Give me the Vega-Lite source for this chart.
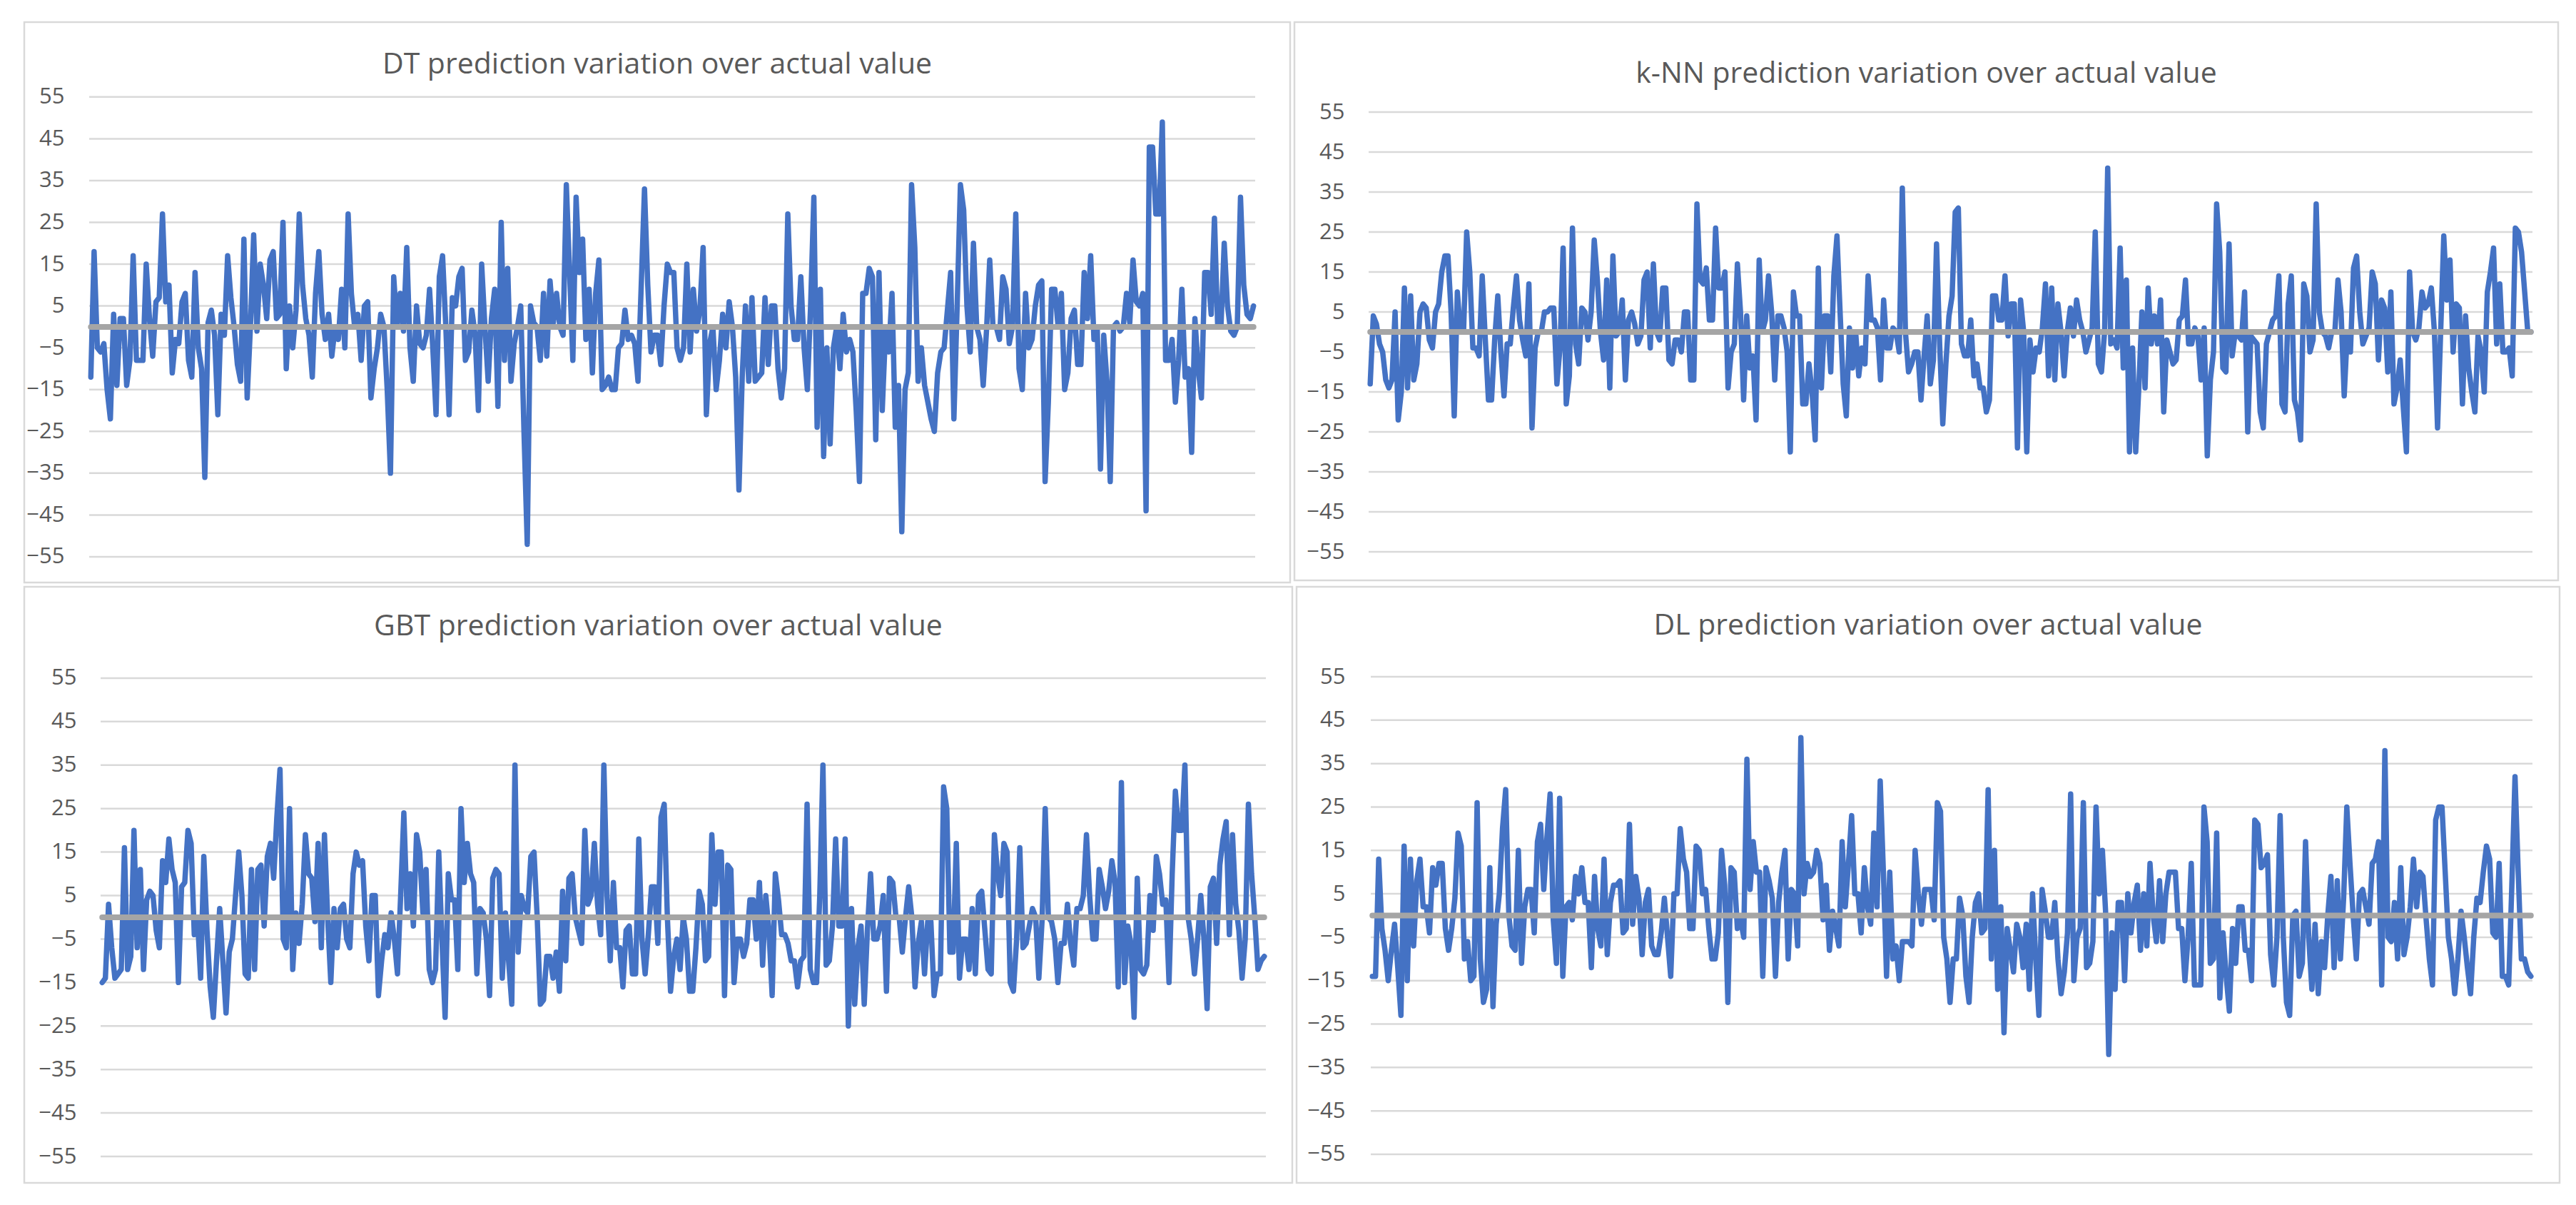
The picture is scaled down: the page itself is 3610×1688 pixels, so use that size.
{
  "$schema": "https://vega.github.io/schema/vega-lite/v6.json",
  "background": "white",
  "padding": {"left": 32, "top": 29, "right": 0, "bottom": 0},
  "config": {
    "view": {"stroke": "#D9D9D9", "strokeWidth": 2.5},
    "font": "Open Sans"
  },
  "datasets": {
    "grid": [{"v":-55},{"v":-45},{"v":-35},{"v":-25},{"v":-15},{"v":-5},{"v":5},{"v":15},{"v":25},{"v":35},{"v":45},{"v":55}],
    "zero": [{"v":0}],
    "dt": [
      {"i":1,"v":-12},{"i":2,"v":18},{"i":3,"v":-5},{"i":4,"v":-6},{"i":5,"v":-4},{"i":6,"v":-15},{"i":7,"v":-22},{"i":8,"v":3},{"i":9,"v":-14},{"i":10,"v":2},
      {"i":11,"v":2},{"i":12,"v":-14},{"i":13,"v":-8},{"i":14,"v":17},{"i":15,"v":-8},{"i":16,"v":-8},{"i":17,"v":-8},{"i":18,"v":15},{"i":19,"v":2},{"i":20,"v":-7},
      {"i":21,"v":6},{"i":22,"v":7},{"i":23,"v":27},{"i":24,"v":6},{"i":25,"v":10},{"i":26,"v":-11},{"i":27,"v":-3},{"i":28,"v":-4},{"i":29,"v":6},{"i":30,"v":8},
      {"i":31,"v":-8},{"i":32,"v":-12},{"i":33,"v":13},{"i":34,"v":-5},{"i":35,"v":-10},{"i":36,"v":-36},{"i":37,"v":1},{"i":38,"v":4},{"i":39,"v":-2},{"i":40,"v":-21},
      {"i":41,"v":3},{"i":42,"v":-2},{"i":43,"v":17},{"i":44,"v":7},{"i":45,"v":0},{"i":46,"v":-9},{"i":47,"v":-13},{"i":48,"v":21},{"i":49,"v":-17},{"i":50,"v":0},
      {"i":51,"v":22},{"i":52,"v":-1},{"i":53,"v":15},{"i":54,"v":10},{"i":55,"v":2},{"i":56,"v":16},{"i":57,"v":18},{"i":58,"v":2},{"i":59,"v":3},{"i":60,"v":25},
      {"i":61,"v":-10},{"i":62,"v":5},{"i":63,"v":-5},{"i":64,"v":4},{"i":65,"v":27},{"i":66,"v":10},{"i":67,"v":2},{"i":68,"v":-2},{"i":69,"v":-12},{"i":70,"v":8},
      {"i":71,"v":18},{"i":72,"v":3},{"i":73,"v":-3},{"i":74,"v":3},{"i":75,"v":-7},{"i":76,"v":0},{"i":77,"v":-3},{"i":78,"v":9},{"i":79,"v":-5},{"i":80,"v":27},
      {"i":81,"v":8},{"i":82,"v":0},{"i":83,"v":3},{"i":84,"v":-8},{"i":85,"v":5},{"i":86,"v":6},{"i":87,"v":-17},{"i":88,"v":-10},{"i":89,"v":-5},{"i":90,"v":3},
      {"i":91,"v":0},{"i":92,"v":-15},{"i":93,"v":-35},{"i":94,"v":12},{"i":95,"v":0},{"i":96,"v":8},{"i":97,"v":-1},{"i":98,"v":19},{"i":99,"v":-5},{"i":100,"v":-13},
      {"i":101,"v":5},{"i":102,"v":-4},{"i":103,"v":-5},{"i":104,"v":-2},{"i":105,"v":9},{"i":106,"v":-5},{"i":107,"v":-21},{"i":108,"v":12},{"i":109,"v":17},{"i":110,"v":0},
      {"i":111,"v":-21},{"i":112,"v":7},{"i":113,"v":5},{"i":114,"v":12},{"i":115,"v":14},{"i":116,"v":-8},{"i":117,"v":-6},{"i":118,"v":4},{"i":119,"v":-2},{"i":120,"v":-20},
      {"i":121,"v":15},{"i":122,"v":0},{"i":123,"v":-13},{"i":124,"v":2},{"i":125,"v":9},{"i":126,"v":-19},{"i":127,"v":25},{"i":128,"v":-8},{"i":129,"v":14},{"i":130,"v":-13},
      {"i":131,"v":-4},{"i":132,"v":0},{"i":133,"v":5},{"i":134,"v":-25},{"i":135,"v":-52},{"i":136,"v":5},{"i":137,"v":1},{"i":138,"v":0},{"i":139,"v":-8},{"i":140,"v":8},
      {"i":141,"v":-7},{"i":142,"v":11},{"i":143,"v":1},{"i":144,"v":8},{"i":145,"v":0},{"i":146,"v":-2},{"i":147,"v":34},{"i":148,"v":13},{"i":149,"v":-8},{"i":150,"v":31},
      {"i":151,"v":13},{"i":152,"v":21},{"i":153,"v":-3},{"i":154,"v":9},{"i":155,"v":-11},{"i":156,"v":8},{"i":157,"v":16},{"i":158,"v":-15},{"i":159,"v":-14},{"i":160,"v":-12},
      {"i":161,"v":-15},{"i":162,"v":-15},{"i":163,"v":-5},{"i":164,"v":-4},{"i":165,"v":4},{"i":166,"v":-3},{"i":167,"v":-2},{"i":168,"v":-4},{"i":169,"v":-13},{"i":170,"v":10},
      {"i":171,"v":33},{"i":172,"v":10},{"i":173,"v":-6},{"i":174,"v":-2},{"i":175,"v":-2},{"i":176,"v":-9},{"i":177,"v":5},{"i":178,"v":15},{"i":179,"v":13},{"i":180,"v":13},
      {"i":181,"v":-5},{"i":182,"v":-8},{"i":183,"v":-5},{"i":184,"v":15},{"i":185,"v":-6},{"i":186,"v":9},{"i":187,"v":-1},{"i":188,"v":4},{"i":189,"v":19},{"i":190,"v":-21},
      {"i":191,"v":-4},{"i":192,"v":0},{"i":193,"v":-15},{"i":194,"v":-8},{"i":195,"v":3},{"i":196,"v":-5},{"i":197,"v":6},{"i":198,"v":0},{"i":199,"v":-12},{"i":200,"v":-39},
      {"i":201,"v":-12},{"i":202,"v":5},{"i":203,"v":-13},{"i":204,"v":7},{"i":205,"v":-13},{"i":206,"v":-12},{"i":207,"v":-11},{"i":208,"v":7},{"i":209,"v":-9},{"i":210,"v":5},
      {"i":211,"v":5},{"i":212,"v":-10},{"i":213,"v":-17},{"i":214,"v":-10},{"i":215,"v":27},{"i":216,"v":5},{"i":217,"v":-3},{"i":218,"v":-3},{"i":219,"v":12},{"i":220,"v":-5},
      {"i":221,"v":-15},{"i":222,"v":5},{"i":223,"v":31},{"i":224,"v":-24},{"i":225,"v":9},{"i":226,"v":-31},{"i":227,"v":-5},{"i":228,"v":-28},{"i":229,"v":-5},{"i":230,"v":0},
      {"i":231,"v":-10},{"i":232,"v":3},{"i":233,"v":-6},{"i":234,"v":-3},{"i":235,"v":-6},{"i":236,"v":-20},{"i":237,"v":-37},{"i":238,"v":8},{"i":239,"v":8},{"i":240,"v":14},
      {"i":241,"v":12},{"i":242,"v":-27},{"i":243,"v":13},{"i":244,"v":-20},{"i":245,"v":-1},{"i":246,"v":-6},{"i":247,"v":8},{"i":248,"v":-24},{"i":249,"v":-14},{"i":250,"v":-49},
      {"i":251,"v":-15},{"i":252,"v":-11},{"i":253,"v":34},{"i":254,"v":19},{"i":255,"v":-13},{"i":256,"v":-5},{"i":257,"v":-14},{"i":258,"v":-18},{"i":259,"v":-22},{"i":260,"v":-25},
      {"i":261,"v":-11},{"i":262,"v":-6},{"i":263,"v":-5},{"i":264,"v":4},{"i":265,"v":13},{"i":266,"v":-22},{"i":267,"v":5},{"i":268,"v":34},{"i":269,"v":28},{"i":270,"v":5},
      {"i":271,"v":-6},{"i":272,"v":20},{"i":273,"v":0},{"i":274,"v":-3},{"i":275,"v":-14},{"i":276,"v":-1},{"i":277,"v":16},{"i":278,"v":0},{"i":279,"v":0},{"i":280,"v":-3},
      {"i":281,"v":12},{"i":282,"v":9},{"i":283,"v":-4},{"i":284,"v":0},{"i":285,"v":27},{"i":286,"v":-10},{"i":287,"v":-15},{"i":288,"v":8},{"i":289,"v":-5},{"i":290,"v":-3},
      {"i":291,"v":5},{"i":292,"v":10},{"i":293,"v":11},{"i":294,"v":-37},{"i":295,"v":-18},{"i":296,"v":9},{"i":297,"v":9},{"i":298,"v":0},{"i":299,"v":8},{"i":300,"v":-15},
      {"i":301,"v":-11},{"i":302,"v":2},{"i":303,"v":4},{"i":304,"v":-9},{"i":305,"v":-9},{"i":306,"v":13},{"i":307,"v":2},{"i":308,"v":17},{"i":309,"v":-3},{"i":310,"v":0},
      {"i":311,"v":-34},{"i":312,"v":-2},{"i":313,"v":-13},{"i":314,"v":-37},{"i":315,"v":0},{"i":316,"v":1},{"i":317,"v":-1},{"i":318,"v":0},{"i":319,"v":8},{"i":320,"v":1},
      {"i":321,"v":16},{"i":322,"v":6},{"i":323,"v":5},{"i":324,"v":8},{"i":325,"v":-44},{"i":326,"v":43},{"i":327,"v":43},{"i":328,"v":27},{"i":329,"v":27},{"i":330,"v":49},
      {"i":331,"v":-8},{"i":332,"v":-8},{"i":333,"v":-3},{"i":334,"v":-18},{"i":335,"v":-8},{"i":336,"v":9},{"i":337,"v":-12},{"i":338,"v":-10},{"i":339,"v":-30},{"i":340,"v":2},
      {"i":341,"v":-10},{"i":342,"v":-17},{"i":343,"v":13},{"i":344,"v":13},{"i":345,"v":3},{"i":346,"v":26},{"i":347,"v":0},{"i":348,"v":0},{"i":349,"v":20},{"i":350,"v":5},
      {"i":351,"v":-1},{"i":352,"v":-2},{"i":353,"v":0},{"i":354,"v":31},{"i":355,"v":10},{"i":356,"v":3},{"i":357,"v":2},{"i":358,"v":5}
    ],
    "knn": [
      {"i":1,"v":-13},{"i":2,"v":4},{"i":3,"v":2},{"i":4,"v":-3},{"i":5,"v":-5},{"i":6,"v":-12},{"i":7,"v":-14},{"i":8,"v":-12},{"i":9,"v":5},{"i":10,"v":-22},
      {"i":11,"v":-15},{"i":12,"v":11},{"i":13,"v":-14},{"i":14,"v":9},{"i":15,"v":-12},{"i":16,"v":-8},{"i":17,"v":5},{"i":18,"v":7},{"i":19,"v":6},{"i":20,"v":-2},
      {"i":21,"v":-4},{"i":22,"v":5},{"i":23,"v":7},{"i":24,"v":15},{"i":25,"v":19},{"i":26,"v":19},{"i":27,"v":5},{"i":28,"v":-21},{"i":29,"v":10},{"i":30,"v":0},
      {"i":31,"v":0},{"i":32,"v":25},{"i":33,"v":15},{"i":34,"v":-4},{"i":35,"v":-4},{"i":36,"v":-6},{"i":37,"v":14},{"i":38,"v":-2},{"i":39,"v":-17},{"i":40,"v":-17},
      {"i":41,"v":-2},{"i":42,"v":9},{"i":43,"v":-5},{"i":44,"v":-16},{"i":45,"v":-3},{"i":46,"v":-3},{"i":47,"v":6},{"i":48,"v":14},{"i":49,"v":3},{"i":50,"v":-2},
      {"i":51,"v":-6},{"i":52,"v":12},{"i":53,"v":-24},{"i":54,"v":-4},{"i":55,"v":0},{"i":56,"v":0},{"i":57,"v":5},{"i":58,"v":5},{"i":59,"v":6},{"i":60,"v":6},
      {"i":61,"v":-13},{"i":62,"v":-4},{"i":63,"v":21},{"i":64,"v":-18},{"i":65,"v":-11},{"i":66,"v":26},{"i":67,"v":-3},{"i":68,"v":-8},{"i":69,"v":6},{"i":70,"v":5},
      {"i":71,"v":-2},{"i":72,"v":5},{"i":73,"v":23},{"i":74,"v":13},{"i":75,"v":0},{"i":76,"v":-7},{"i":77,"v":13},{"i":78,"v":-14},{"i":79,"v":19},{"i":80,"v":-1},
      {"i":81,"v":0},{"i":82,"v":8},{"i":83,"v":-12},{"i":84,"v":3},{"i":85,"v":5},{"i":86,"v":2},{"i":87,"v":-3},{"i":88,"v":-1},{"i":89,"v":13},{"i":90,"v":15},
      {"i":91,"v":-4},{"i":92,"v":17},{"i":93,"v":0},{"i":94,"v":-2},{"i":95,"v":11},{"i":96,"v":11},{"i":97,"v":-7},{"i":98,"v":-8},{"i":99,"v":-2},{"i":100,"v":-2},
      {"i":101,"v":-5},{"i":102,"v":5},{"i":103,"v":5},{"i":104,"v":-12},{"i":105,"v":-12},{"i":106,"v":32},{"i":107,"v":13},{"i":108,"v":12},{"i":109,"v":16},{"i":110,"v":3},
      {"i":111,"v":3},{"i":112,"v":26},{"i":113,"v":11},{"i":114,"v":11},{"i":115,"v":15},{"i":116,"v":-14},{"i":117,"v":-5},{"i":118,"v":-3},{"i":119,"v":17},{"i":120,"v":5},
      {"i":121,"v":-17},{"i":122,"v":4},{"i":123,"v":-9},{"i":124,"v":-6},{"i":125,"v":-22},{"i":126,"v":18},{"i":127,"v":0},{"i":128,"v":3},{"i":129,"v":14},{"i":130,"v":5},
      {"i":131,"v":-12},{"i":132,"v":4},{"i":133,"v":4},{"i":134,"v":1},{"i":135,"v":-5},{"i":136,"v":-30},{"i":137,"v":10},{"i":138,"v":4},{"i":139,"v":4},{"i":140,"v":-18},
      {"i":141,"v":-18},{"i":142,"v":-8},{"i":143,"v":-15},{"i":144,"v":-27},{"i":145,"v":16},{"i":146,"v":-14},{"i":147,"v":4},{"i":148,"v":4},{"i":149,"v":-10},{"i":150,"v":14},
      {"i":151,"v":24},{"i":152,"v":5},{"i":153,"v":-13},{"i":154,"v":-21},{"i":155,"v":1},{"i":156,"v":-9},{"i":157,"v":0},{"i":158,"v":-11},{"i":159,"v":-4},{"i":160,"v":-8},
      {"i":161,"v":14},{"i":162,"v":3},{"i":163,"v":3},{"i":164,"v":1},{"i":165,"v":-12},{"i":166,"v":8},{"i":167,"v":-4},{"i":168,"v":-4},{"i":169,"v":1},{"i":170,"v":0},
      {"i":171,"v":-5},{"i":172,"v":36},{"i":173,"v":0},{"i":174,"v":-10},{"i":175,"v":-8},{"i":176,"v":-5},{"i":177,"v":-5},{"i":178,"v":-17},{"i":179,"v":-6},{"i":180,"v":4},
      {"i":181,"v":-13},{"i":182,"v":-7},{"i":183,"v":22},{"i":184,"v":-3},{"i":185,"v":-23},{"i":186,"v":-8},{"i":187,"v":4},{"i":188,"v":9},{"i":189,"v":30},{"i":190,"v":31},
      {"i":191,"v":-3},{"i":192,"v":-6},{"i":193,"v":-6},{"i":194,"v":3},{"i":195,"v":-11},{"i":196,"v":-8},{"i":197,"v":-14},{"i":198,"v":-14},{"i":199,"v":-20},{"i":200,"v":-17},
      {"i":201,"v":9},{"i":202,"v":9},{"i":203,"v":3},{"i":204,"v":3},{"i":205,"v":14},{"i":206,"v":-1},{"i":207,"v":7},{"i":208,"v":7},{"i":209,"v":-29},{"i":210,"v":8},
      {"i":211,"v":0},{"i":212,"v":-30},{"i":213,"v":-2},{"i":214,"v":-10},{"i":215,"v":-4},{"i":216,"v":-5},{"i":217,"v":1},{"i":218,"v":12},{"i":219,"v":-11},{"i":220,"v":11},
      {"i":221,"v":-12},{"i":222,"v":7},{"i":223,"v":0},{"i":224,"v":-11},{"i":225,"v":0},{"i":226,"v":6},{"i":227,"v":-1},{"i":228,"v":8},{"i":229,"v":3},{"i":230,"v":0},
      {"i":231,"v":-5},{"i":232,"v":-2},{"i":233,"v":1},{"i":234,"v":25},{"i":235,"v":-8},{"i":236,"v":-10},{"i":237,"v":0},{"i":238,"v":41},{"i":239,"v":-3},{"i":240,"v":-2},
      {"i":241,"v":-4},{"i":242,"v":21},{"i":243,"v":-9},{"i":244,"v":13},{"i":245,"v":-30},{"i":246,"v":-4},{"i":247,"v":-30},{"i":248,"v":-14},{"i":249,"v":5},{"i":250,"v":-14},
      {"i":251,"v":11},{"i":252,"v":-3},{"i":253,"v":4},{"i":254,"v":-3},{"i":255,"v":8},{"i":256,"v":-20},{"i":257,"v":-2},{"i":258,"v":-5},{"i":259,"v":-8},{"i":260,"v":-7},
      {"i":261,"v":3},{"i":262,"v":4},{"i":263,"v":13},{"i":264,"v":-3},{"i":265,"v":-3},{"i":266,"v":1},{"i":267,"v":-1},{"i":268,"v":-12},{"i":269,"v":1},{"i":270,"v":-31},
      {"i":271,"v":-12},{"i":272,"v":-5},{"i":273,"v":32},{"i":274,"v":20},{"i":275,"v":-9},{"i":276,"v":-10},{"i":277,"v":22},{"i":278,"v":-6},{"i":279,"v":0},{"i":280,"v":-1},
      {"i":281,"v":-2},{"i":282,"v":10},{"i":283,"v":-25},{"i":284,"v":-1},{"i":285,"v":-2},{"i":286,"v":-3},{"i":287,"v":-20},{"i":288,"v":-24},{"i":289,"v":-3},{"i":290,"v":0},
      {"i":291,"v":3},{"i":292,"v":4},{"i":293,"v":14},{"i":294,"v":-18},{"i":295,"v":-20},{"i":296,"v":7},{"i":297,"v":14},{"i":298,"v":-17},{"i":299,"v":-20},{"i":300,"v":-27},
      {"i":301,"v":12},{"i":302,"v":9},{"i":303,"v":-5},{"i":304,"v":-2},{"i":305,"v":32},{"i":306,"v":5},{"i":307,"v":0},{"i":308,"v":-1},{"i":309,"v":-4},{"i":310,"v":0},
      {"i":311,"v":0},{"i":312,"v":13},{"i":313,"v":5},{"i":314,"v":-16},{"i":315,"v":0},{"i":316,"v":-5},{"i":317,"v":16},{"i":318,"v":19},{"i":319,"v":5},{"i":320,"v":-3},
      {"i":321,"v":-1},{"i":322,"v":1},{"i":323,"v":15},{"i":324,"v":12},{"i":325,"v":-7},{"i":326,"v":8},{"i":327,"v":6},{"i":328,"v":-10},{"i":329,"v":10},{"i":330,"v":-18},
      {"i":331,"v":-14},{"i":332,"v":-7},{"i":333,"v":-19},{"i":334,"v":-30},{"i":335,"v":15},{"i":336,"v":0},{"i":337,"v":-2},{"i":338,"v":1},{"i":339,"v":10},{"i":340,"v":6},
      {"i":341,"v":7},{"i":342,"v":11},{"i":343,"v":0},{"i":344,"v":-24},{"i":345,"v":0},{"i":346,"v":24},{"i":347,"v":8},{"i":348,"v":18},{"i":349,"v":-5},{"i":350,"v":7},
      {"i":351,"v":6},{"i":352,"v":-18},{"i":353,"v":4},{"i":354,"v":-9},{"i":355,"v":-15},{"i":356,"v":-20},{"i":357,"v":-1},{"i":358,"v":-5},{"i":359,"v":-15},{"i":360,"v":10},
      {"i":361,"v":15},{"i":362,"v":21},{"i":363,"v":-3},{"i":364,"v":12},{"i":365,"v":-5},{"i":366,"v":-5},{"i":367,"v":-4},{"i":368,"v":-11},{"i":369,"v":26},{"i":370,"v":25},
      {"i":371,"v":20},{"i":372,"v":10},{"i":373,"v":0},{"i":374,"v":0}
    ],
    "gbt": [
      {"i":1,"v":-15},{"i":2,"v":-14},{"i":3,"v":3},{"i":4,"v":-7},{"i":5,"v":-14},{"i":6,"v":-13},{"i":7,"v":-12},{"i":8,"v":16},{"i":9,"v":-12},{"i":10,"v":-9},
      {"i":11,"v":20},{"i":12,"v":-7},{"i":13,"v":11},{"i":14,"v":-12},{"i":15,"v":4},{"i":16,"v":6},{"i":17,"v":5},{"i":18,"v":-3},{"i":19,"v":-7},{"i":20,"v":13},
      {"i":21,"v":8},{"i":22,"v":18},{"i":23,"v":11},{"i":24,"v":8},{"i":25,"v":-15},{"i":26,"v":7},{"i":27,"v":8},{"i":28,"v":20},{"i":29,"v":17},{"i":30,"v":-4},
      {"i":31,"v":0},{"i":32,"v":-14},{"i":33,"v":14},{"i":34,"v":-3},{"i":35,"v":-16},{"i":36,"v":-23},{"i":37,"v":-10},{"i":38,"v":2},{"i":39,"v":-10},{"i":40,"v":-22},
      {"i":41,"v":-8},{"i":42,"v":-5},{"i":43,"v":5},{"i":44,"v":15},{"i":45,"v":5},{"i":46,"v":-13},{"i":47,"v":-14},{"i":48,"v":11},{"i":49,"v":-12},{"i":50,"v":11},
      {"i":51,"v":12},{"i":52,"v":-2},{"i":53,"v":14},{"i":54,"v":17},{"i":55,"v":9},{"i":56,"v":23},{"i":57,"v":34},{"i":58,"v":-5},{"i":59,"v":-7},{"i":60,"v":25},
      {"i":61,"v":-12},{"i":62,"v":1},{"i":63,"v":-6},{"i":64,"v":3},{"i":65,"v":19},{"i":66,"v":10},{"i":67,"v":9},{"i":68,"v":-1},{"i":69,"v":17},{"i":70,"v":-7},
      {"i":71,"v":19},{"i":72,"v":0},{"i":73,"v":-15},{"i":74,"v":2},{"i":75,"v":-7},{"i":76,"v":2},{"i":77,"v":3},{"i":78,"v":-5},{"i":79,"v":-7},{"i":80,"v":10},
      {"i":81,"v":15},{"i":82,"v":12},{"i":83,"v":13},{"i":84,"v":-2},{"i":85,"v":-10},{"i":86,"v":5},{"i":87,"v":5},{"i":88,"v":-18},{"i":89,"v":-10},{"i":90,"v":-4},
      {"i":91,"v":-7},{"i":92,"v":1},{"i":93,"v":-5},{"i":94,"v":-13},{"i":95,"v":5},{"i":96,"v":24},{"i":97,"v":2},{"i":98,"v":10},{"i":99,"v":-2},{"i":100,"v":19},
      {"i":101,"v":15},{"i":102,"v":1},{"i":103,"v":11},{"i":104,"v":-12},{"i":105,"v":-15},{"i":106,"v":-12},{"i":107,"v":15},{"i":108,"v":-5},{"i":109,"v":-23},{"i":110,"v":10},
      {"i":111,"v":4},{"i":112,"v":4},{"i":113,"v":-12},{"i":114,"v":25},{"i":115,"v":8},{"i":116,"v":17},{"i":117,"v":10},{"i":118,"v":8},{"i":119,"v":-13},{"i":120,"v":2},
      {"i":121,"v":1},{"i":122,"v":-5},{"i":123,"v":-18},{"i":124,"v":9},{"i":125,"v":11},{"i":126,"v":10},{"i":127,"v":-14},{"i":128,"v":1},{"i":129,"v":-10},{"i":130,"v":-20},
      {"i":131,"v":35},{"i":132,"v":-8},{"i":133,"v":5},{"i":134,"v":2},{"i":135,"v":1},{"i":136,"v":14},{"i":137,"v":15},{"i":138,"v":0},{"i":139,"v":-20},{"i":140,"v":-19},
      {"i":141,"v":-9},{"i":142,"v":-9},{"i":143,"v":-14},{"i":144,"v":-8},{"i":145,"v":-17},{"i":146,"v":6},{"i":147,"v":-10},{"i":148,"v":9},{"i":149,"v":10},{"i":150,"v":0},
      {"i":151,"v":-3},{"i":152,"v":-6},{"i":153,"v":20},{"i":154,"v":3},{"i":155,"v":5},{"i":156,"v":17},{"i":157,"v":3},{"i":158,"v":-4},{"i":159,"v":35},{"i":160,"v":5},
      {"i":161,"v":-10},{"i":162,"v":8},{"i":163,"v":-7},{"i":164,"v":-7},{"i":165,"v":-16},{"i":166,"v":-3},{"i":167,"v":-2},{"i":168,"v":-13},{"i":169,"v":-13},{"i":170,"v":18},
      {"i":171,"v":-5},{"i":172,"v":-13},{"i":173,"v":-4},{"i":174,"v":7},{"i":175,"v":7},{"i":176,"v":-6},{"i":177,"v":23},{"i":178,"v":26},{"i":179,"v":0},{"i":180,"v":-17},
      {"i":181,"v":-9},{"i":182,"v":-5},{"i":183,"v":-12},{"i":184,"v":0},{"i":185,"v":-5},{"i":186,"v":-17},{"i":187,"v":-17},{"i":188,"v":-7},{"i":189,"v":6},{"i":190,"v":3},
      {"i":191,"v":-10},{"i":192,"v":-9},{"i":193,"v":19},{"i":194,"v":3},{"i":195,"v":15},{"i":196,"v":15},{"i":197,"v":-18},{"i":198,"v":12},{"i":199,"v":11},{"i":200,"v":-15},
      {"i":201,"v":-5},{"i":202,"v":-5},{"i":203,"v":-9},{"i":204,"v":-6},{"i":205,"v":4},{"i":206,"v":4},{"i":207,"v":-5},{"i":208,"v":8},{"i":209,"v":-11},{"i":210,"v":5},
      {"i":211,"v":-3},{"i":212,"v":-18},{"i":213,"v":10},{"i":214,"v":4},{"i":215,"v":-4},{"i":216,"v":-4},{"i":217,"v":-6},{"i":218,"v":-10},{"i":219,"v":-10},{"i":220,"v":-16},
      {"i":221,"v":-10},{"i":222,"v":-9},{"i":223,"v":26},{"i":224,"v":-12},{"i":225,"v":-15},{"i":226,"v":-15},{"i":227,"v":5},{"i":228,"v":35},{"i":229,"v":-11},{"i":230,"v":-10},
      {"i":231,"v":-2},{"i":232,"v":18},{"i":233,"v":-2},{"i":234,"v":-2},{"i":235,"v":18},{"i":236,"v":-25},{"i":237,"v":2},{"i":238,"v":-20},{"i":239,"v":-7},{"i":240,"v":-2},
      {"i":241,"v":-20},{"i":242,"v":-3},{"i":243,"v":10},{"i":244,"v":-5},{"i":245,"v":-5},{"i":246,"v":-2},{"i":247,"v":5},{"i":248,"v":-17},{"i":249,"v":9},{"i":250,"v":8},
      {"i":251,"v":0},{"i":252,"v":0},{"i":253,"v":-8},{"i":254,"v":0},{"i":255,"v":7},{"i":256,"v":0},{"i":257,"v":-16},{"i":258,"v":-6},{"i":259,"v":-1},{"i":260,"v":-13},
      {"i":261,"v":-1},{"i":262,"v":-1},{"i":263,"v":-18},{"i":264,"v":-13},{"i":265,"v":-13},{"i":266,"v":30},{"i":267,"v":25},{"i":268,"v":-8},{"i":269,"v":-8},{"i":270,"v":17},
      {"i":271,"v":-14},{"i":272,"v":-5},{"i":273,"v":-5},{"i":274,"v":-12},{"i":275,"v":2},{"i":276,"v":-13},{"i":277,"v":5},{"i":278,"v":6},{"i":279,"v":-3},{"i":280,"v":-12},
      {"i":281,"v":-13},{"i":282,"v":19},{"i":283,"v":10},{"i":284,"v":5},{"i":285,"v":17},{"i":286,"v":15},{"i":287,"v":-15},{"i":288,"v":-17},{"i":289,"v":-5},{"i":290,"v":16},
      {"i":291,"v":-7},{"i":292,"v":-6},{"i":293,"v":-2},{"i":294,"v":2},{"i":295,"v":0},{"i":296,"v":-14},{"i":297,"v":-1},{"i":298,"v":25},{"i":299,"v":0},{"i":300,"v":-1},
      {"i":301,"v":-5},{"i":302,"v":-15},{"i":303,"v":-6},{"i":304,"v":-6},{"i":305,"v":3},{"i":306,"v":-6},{"i":307,"v":-11},{"i":308,"v":2},{"i":309,"v":2},{"i":310,"v":5},
      {"i":311,"v":19},{"i":312,"v":5},{"i":313,"v":-5},{"i":314,"v":-5},{"i":315,"v":11},{"i":316,"v":7},{"i":317,"v":2},{"i":318,"v":6},{"i":319,"v":13},{"i":320,"v":8},
      {"i":321,"v":-16},{"i":322,"v":31},{"i":323,"v":-15},{"i":324,"v":-2},{"i":325,"v":-6},{"i":326,"v":-23},{"i":327,"v":9},{"i":328,"v":-12},{"i":329,"v":-13},{"i":330,"v":-11},
      {"i":331,"v":5},{"i":332,"v":-3},{"i":333,"v":14},{"i":334,"v":10},{"i":335,"v":3},{"i":336,"v":4},{"i":337,"v":-15},{"i":338,"v":10},{"i":339,"v":29},{"i":340,"v":20},
      {"i":341,"v":20},{"i":342,"v":35},{"i":343,"v":0},{"i":344,"v":-5},{"i":345,"v":-13},{"i":346,"v":-5},{"i":347,"v":5},{"i":348,"v":-5},{"i":349,"v":-21},{"i":350,"v":7},
      {"i":351,"v":9},{"i":352,"v":-6},{"i":353,"v":12},{"i":354,"v":18},{"i":355,"v":22},{"i":356,"v":-4},{"i":357,"v":19},{"i":358,"v":3},{"i":359,"v":-3},{"i":360,"v":-14},
      {"i":361,"v":-5},{"i":362,"v":26},{"i":363,"v":10},{"i":364,"v":0},{"i":365,"v":-12},{"i":366,"v":-10},{"i":367,"v":-9}
    ],
    "dl": [
      {"i":1,"v":-14},{"i":2,"v":-14},{"i":3,"v":13},{"i":4,"v":-3},{"i":5,"v":-8},{"i":6,"v":-15},{"i":7,"v":-8},{"i":8,"v":-2},{"i":9,"v":-12},{"i":10,"v":-23},
      {"i":11,"v":16},{"i":12,"v":-15},{"i":13,"v":13},{"i":14,"v":-7},{"i":15,"v":8},{"i":16,"v":13},{"i":17,"v":2},{"i":18,"v":2},{"i":19,"v":-4},{"i":20,"v":11},
      {"i":21,"v":7},{"i":22,"v":12},{"i":23,"v":12},{"i":24,"v":-3},{"i":25,"v":-8},{"i":26,"v":-3},{"i":27,"v":4},{"i":28,"v":19},{"i":29,"v":16},{"i":30,"v":-10},
      {"i":31,"v":-6},{"i":32,"v":-15},{"i":33,"v":-14},{"i":34,"v":26},{"i":35,"v":-10},{"i":36,"v":-20},{"i":37,"v":-17},{"i":38,"v":11},{"i":39,"v":-21},{"i":40,"v":-2},
      {"i":41,"v":5},{"i":42,"v":20},{"i":43,"v":29},{"i":44,"v":0},{"i":45,"v":-7},{"i":46,"v":-8},{"i":47,"v":15},{"i":48,"v":-11},{"i":49,"v":2},{"i":50,"v":6},
      {"i":51,"v":6},{"i":52,"v":-4},{"i":53,"v":17},{"i":54,"v":21},{"i":55,"v":6},{"i":56,"v":18},{"i":57,"v":28},{"i":58,"v":-1},{"i":59,"v":-11},{"i":60,"v":27},
      {"i":61,"v":-14},{"i":62,"v":2},{"i":63,"v":3},{"i":64,"v":-1},{"i":65,"v":9},{"i":66,"v":5},{"i":67,"v":11},{"i":68,"v":3},{"i":69,"v":3},{"i":70,"v":-12},
      {"i":71,"v":9},{"i":72,"v":-3},{"i":73,"v":-7},{"i":74,"v":13},{"i":75,"v":-9},{"i":76,"v":3},{"i":77,"v":7},{"i":78,"v":7},{"i":79,"v":8},{"i":80,"v":-4},
      {"i":81,"v":-3},{"i":82,"v":21},{"i":83,"v":-2},{"i":84,"v":9},{"i":85,"v":4},{"i":86,"v":-9},{"i":87,"v":3},{"i":88,"v":6},{"i":89,"v":-7},{"i":90,"v":-9},
      {"i":91,"v":-9},{"i":92,"v":-4},{"i":93,"v":4},{"i":94,"v":-5},{"i":95,"v":-14},{"i":96,"v":5},{"i":97,"v":5},{"i":98,"v":20},{"i":99,"v":13},{"i":100,"v":10},
      {"i":101,"v":-3},{"i":102,"v":-3},{"i":103,"v":16},{"i":104,"v":15},{"i":105,"v":5},{"i":106,"v":6},{"i":107,"v":-3},{"i":108,"v":-10},{"i":109,"v":-10},{"i":110,"v":-4},
      {"i":111,"v":15},{"i":112,"v":7},{"i":113,"v":-20},{"i":114,"v":11},{"i":115,"v":10},{"i":116,"v":-3},{"i":117,"v":-1},{"i":118,"v":-5},{"i":119,"v":36},{"i":120,"v":6},
      {"i":121,"v":17},{"i":122,"v":10},{"i":123,"v":10},{"i":124,"v":-14},{"i":125,"v":11},{"i":126,"v":8},{"i":127,"v":4},{"i":128,"v":-14},{"i":129,"v":3},{"i":130,"v":10},
      {"i":131,"v":15},{"i":132,"v":-10},{"i":133,"v":6},{"i":134,"v":5},{"i":135,"v":-7},{"i":136,"v":41},{"i":137,"v":5},{"i":138,"v":12},{"i":139,"v":9},{"i":140,"v":10},
      {"i":141,"v":15},{"i":142,"v":12},{"i":143,"v":-1},{"i":144,"v":7},{"i":145,"v":-8},{"i":146,"v":1},{"i":147,"v":-3},{"i":148,"v":-7},{"i":149,"v":17},{"i":150,"v":2},
      {"i":151,"v":12},{"i":152,"v":23},{"i":153,"v":5},{"i":154,"v":5},{"i":155,"v":-4},{"i":156,"v":11},{"i":157,"v":2},{"i":158,"v":-2},{"i":159,"v":19},{"i":160,"v":2},
      {"i":161,"v":31},{"i":162,"v":10},{"i":163,"v":-14},{"i":164,"v":10},{"i":165,"v":-10},{"i":166,"v":-7},{"i":167,"v":-15},{"i":168,"v":-6},{"i":169,"v":-6},{"i":170,"v":-6},
      {"i":171,"v":-7},{"i":172,"v":15},{"i":173,"v":5},{"i":174,"v":-2},{"i":175,"v":6},{"i":176,"v":6},{"i":177,"v":6},{"i":178,"v":-1},{"i":179,"v":26},{"i":180,"v":24},
      {"i":181,"v":-5},{"i":182,"v":-10},{"i":183,"v":-20},{"i":184,"v":-10},{"i":185,"v":-10},{"i":186,"v":4},{"i":187,"v":0},{"i":188,"v":-14},{"i":189,"v":-20},{"i":190,"v":-5},
      {"i":191,"v":3},{"i":192,"v":5},{"i":193,"v":-4},{"i":194,"v":-3},{"i":195,"v":29},{"i":196,"v":-10},{"i":197,"v":15},{"i":198,"v":-17},{"i":199,"v":2},{"i":200,"v":-27},
      {"i":201,"v":-3},{"i":202,"v":-8},{"i":203,"v":-13},{"i":204,"v":-2},{"i":205,"v":-5},{"i":206,"v":-12},{"i":207,"v":-2},{"i":208,"v":-17},{"i":209,"v":5},{"i":210,"v":-10},
      {"i":211,"v":-23},{"i":212,"v":6},{"i":213,"v":1},{"i":214,"v":-5},{"i":215,"v":-5},{"i":216,"v":3},{"i":217,"v":-10},{"i":218,"v":-18},{"i":219,"v":-13},{"i":220,"v":-4},
      {"i":221,"v":28},{"i":222,"v":-15},{"i":223,"v":-5},{"i":224,"v":-3},{"i":225,"v":26},{"i":226,"v":-12},{"i":227,"v":-11},{"i":228,"v":-6},{"i":229,"v":25},{"i":230,"v":5},
      {"i":231,"v":15},{"i":232,"v":1},{"i":233,"v":-32},{"i":234,"v":-4},{"i":235,"v":-17},{"i":236,"v":3},{"i":237,"v":3},{"i":238,"v":-15},{"i":239,"v":5},{"i":240,"v":-4},
      {"i":241,"v":3},{"i":242,"v":7},{"i":243,"v":-8},{"i":244,"v":5},{"i":245,"v":-7},{"i":246,"v":12},{"i":247,"v":0},{"i":248,"v":-6},{"i":249,"v":8},{"i":250,"v":-6},
      {"i":251,"v":5},{"i":252,"v":10},{"i":253,"v":10},{"i":254,"v":10},{"i":255,"v":-3},{"i":256,"v":-3},{"i":257,"v":-15},{"i":258,"v":-5},{"i":259,"v":12},{"i":260,"v":-16},
      {"i":261,"v":-16},{"i":262,"v":-16},{"i":263,"v":25},{"i":264,"v":17},{"i":265,"v":-11},{"i":266,"v":-10},{"i":267,"v":19},{"i":268,"v":-19},{"i":269,"v":-4},{"i":270,"v":-14},
      {"i":271,"v":-22},{"i":272,"v":-3},{"i":273,"v":-11},{"i":274,"v":2},{"i":275,"v":2},{"i":276,"v":-8},{"i":277,"v":-8},{"i":278,"v":-15},{"i":279,"v":22},{"i":280,"v":21},
      {"i":281,"v":11},{"i":282,"v":12},{"i":283,"v":14},{"i":284,"v":-9},{"i":285,"v":-16},{"i":286,"v":-5},{"i":287,"v":23},{"i":288,"v":-5},{"i":289,"v":-20},{"i":290,"v":-23},
      {"i":291,"v":0},{"i":292,"v":1},{"i":293,"v":-14},{"i":294,"v":-11},{"i":295,"v":17},{"i":296,"v":-5},{"i":297,"v":-17},{"i":298,"v":-2},{"i":299,"v":-18},{"i":300,"v":-6},
      {"i":301,"v":-12},{"i":302,"v":0},{"i":303,"v":9},{"i":304,"v":-12},{"i":305,"v":8},{"i":306,"v":-10},{"i":307,"v":4},{"i":308,"v":25},{"i":309,"v":12},{"i":310,"v":0},
      {"i":311,"v":-10},{"i":312,"v":5},{"i":313,"v":6},{"i":314,"v":2},{"i":315,"v":-2},{"i":316,"v":12},{"i":317,"v":13},{"i":318,"v":17},{"i":319,"v":-16},{"i":320,"v":38},
      {"i":321,"v":-5},{"i":322,"v":-6},{"i":323,"v":3},{"i":324,"v":-10},{"i":325,"v":11},{"i":326,"v":-9},{"i":327,"v":-5},{"i":328,"v":2},{"i":329,"v":13},{"i":330,"v":2},
      {"i":331,"v":10},{"i":332,"v":9},{"i":333,"v":-1},{"i":334,"v":-10},{"i":335,"v":-16},{"i":336,"v":22},{"i":337,"v":25},{"i":338,"v":25},{"i":339,"v":10},{"i":340,"v":-5},
      {"i":341,"v":-10},{"i":342,"v":-18},{"i":343,"v":-10},{"i":344,"v":1},{"i":345,"v":-5},{"i":346,"v":-12},{"i":347,"v":-18},{"i":348,"v":-5},{"i":349,"v":4},{"i":350,"v":3},
      {"i":351,"v":10},{"i":352,"v":16},{"i":353,"v":13},{"i":354,"v":-4},{"i":355,"v":-5},{"i":356,"v":12},{"i":357,"v":-14},{"i":358,"v":-14},{"i":359,"v":-16},{"i":360,"v":7},
      {"i":361,"v":32},{"i":362,"v":10},{"i":363,"v":-10},{"i":364,"v":-10},{"i":365,"v":-13},{"i":366,"v":-14}
    ]
  },
  "vconcat": [
    {
      "hconcat": [
        {
          "width": 1774,
          "height": 785,
          "title": {"text": "DT prediction variation over actual value", "anchor": "middle", "frame": "group", "offset": -113, "baseline": "alphabetic", "fontSize": 41, "font": "Open Sans", "fontWeight": "normal", "color": "#595959"},
          "encoding": {
            "y": {"field": "v", "type": "quantitative", "scale": {"domain": [-61.15, 72.9], "nice": false, "zero": false},
                  "axis": {"values": [-55,-45,-35,-25,-15,-5,5,15,25,35,45,55], "grid": false, "domain": false, "ticks": false, "labelPadding": 0, "offset": -56, "labelFontSize": 31, "labelFont": "Open Sans", "labelColor": "#595959", "title": null}}
          },
          "layer": [
            {"data": {"name": "grid"}, "mark": {"type": "rule", "color": "#D9D9D9", "strokeWidth": 2.5},
             "encoding": {"x": {"datum": 0.5, "type": "quantitative", "scale": {"domain": [-19.44, 369.24], "nice": false, "zero": false}, "axis": null}, "x2": {"datum": 358.5}}},
            {"data": {"name": "dt"}, "mark": {"type": "line", "color": "#4472C4", "strokeWidth": 7.5, "strokeJoin": "round", "strokeCap": "round"},
             "encoding": {"x": {"field": "i", "type": "quantitative", "scale": {"domain": [-19.44, 369.24], "nice": false, "zero": false}, "axis": null}}},
            {"data": {"name": "zero"}, "mark": {"type": "rule", "color": "#A5A5A5", "strokeWidth": 8, "strokeCap": "round"},
             "encoding": {"x": {"datum": 1, "type": "quantitative", "scale": {"domain": [-19.44, 369.24], "nice": false, "zero": false}, "axis": null}, "x2": {"datum": 358}}}
          ]
        },
        {
          "width": 1771,
          "height": 782,
          "title": {"text": "k-NN prediction variation over actual value", "anchor": "middle", "frame": "group", "offset": -126, "baseline": "alphabetic", "fontSize": 41, "font": "Open Sans", "fontWeight": "normal", "color": "#595959"},
          "encoding": {
            "y": {"field": "v", "type": "quantitative", "scale": {"domain": [-62.14, 77.5], "nice": false, "zero": false},
                  "axis": {"values": [-55,-45,-35,-25,-15,-5,5,15,25,35,45,55], "grid": false, "domain": false, "ticks": false, "labelPadding": 0, "offset": -70, "labelFontSize": 31, "labelFont": "Open Sans", "labelColor": "#595959", "title": null}}
          },
          "layer": [
            {"data": {"name": "grid"}, "mark": {"type": "rule", "color": "#D9D9D9", "strokeWidth": 2.5},
             "encoding": {"x": {"datum": 0.5, "type": "quantitative", "scale": {"domain": [-23.35, 382.76], "nice": false, "zero": false}, "axis": null}, "x2": {"datum": 374.5}}},
            {"data": {"name": "knn"}, "mark": {"type": "line", "color": "#4472C4", "strokeWidth": 7.5, "strokeJoin": "round", "strokeCap": "round"},
             "encoding": {"x": {"field": "i", "type": "quantitative", "scale": {"domain": [-23.35, 382.76], "nice": false, "zero": false}, "axis": null}}},
            {"data": {"name": "zero"}, "mark": {"type": "rule", "color": "#A5A5A5", "strokeWidth": 8, "strokeCap": "round"},
             "encoding": {"x": {"datum": 1, "type": "quantitative", "scale": {"domain": [-23.35, 382.76], "nice": false, "zero": false}, "axis": null}, "x2": {"datum": 374}}}
          ]
        }
      ],
      "spacing": 2
    },
    {
      "hconcat": [
        {
          "width": 1777,
          "height": 835,
          "title": {"text": "GBT prediction variation over actual value", "anchor": "middle", "frame": "group", "offset": -109, "baseline": "alphabetic", "fontSize": 41, "font": "Open Sans", "fontWeight": "normal", "color": "#595959"},
          "encoding": {
            "y": {"field": "v", "type": "quantitative", "scale": {"domain": [-61.07, 76.0], "nice": false, "zero": false},
                  "axis": {"values": [-55,-45,-35,-25,-15,-5,5,15,25,35,45,55], "grid": false, "domain": false, "ticks": false, "labelPadding": 0, "offset": -73, "labelFontSize": 31, "labelFont": "Open Sans", "labelColor": "#595959", "title": null}}
          },
          "layer": [
            {"data": {"name": "grid"}, "mark": {"type": "rule", "color": "#D9D9D9", "strokeWidth": 2.5},
             "encoding": {"x": {"datum": 0.5, "type": "quantitative", "scale": {"domain": [-23.55, 375.82], "nice": false, "zero": false}, "axis": null}, "x2": {"datum": 367.5}}},
            {"data": {"name": "gbt"}, "mark": {"type": "line", "color": "#4472C4", "strokeWidth": 7.5, "strokeJoin": "round", "strokeCap": "round"},
             "encoding": {"x": {"field": "i", "type": "quantitative", "scale": {"domain": [-23.55, 375.82], "nice": false, "zero": false}, "axis": null}}},
            {"data": {"name": "zero"}, "mark": {"type": "rule", "color": "#A5A5A5", "strokeWidth": 8, "strokeCap": "round"},
             "encoding": {"x": {"datum": 1, "type": "quantitative", "scale": {"domain": [-23.55, 375.82], "nice": false, "zero": false}, "axis": null}, "x2": {"datum": 367}}}
          ]
        },
        {
          "width": 1770,
          "height": 835,
          "title": {"text": "DL prediction variation over actual value", "anchor": "middle", "frame": "group", "offset": -108, "baseline": "alphabetic", "fontSize": 41, "font": "Open Sans", "fontWeight": "normal", "color": "#595959"},
          "encoding": {
            "y": {"field": "v", "type": "quantitative", "scale": {"domain": [-61.58, 75.72], "nice": false, "zero": false},
                  "axis": {"values": [-55,-45,-35,-25,-15,-5,5,15,25,35,45,55], "grid": false, "domain": false, "ticks": false, "labelPadding": 0, "offset": -68, "labelFontSize": 31, "labelFont": "Open Sans", "labelColor": "#595959", "title": null}}
          },
          "layer": [
            {"data": {"name": "grid"}, "mark": {"type": "rule", "color": "#D9D9D9", "strokeWidth": 2.5},
             "encoding": {"x": {"datum": 0.5, "type": "quantitative", "scale": {"domain": [-22.88, 375.04], "nice": false, "zero": false}, "axis": null}, "x2": {"datum": 366.5}}},
            {"data": {"name": "dl"}, "mark": {"type": "line", "color": "#4472C4", "strokeWidth": 7.5, "strokeJoin": "round", "strokeCap": "round"},
             "encoding": {"x": {"field": "i", "type": "quantitative", "scale": {"domain": [-22.88, 375.04], "nice": false, "zero": false}, "axis": null}}},
            {"data": {"name": "zero"}, "mark": {"type": "rule", "color": "#A5A5A5", "strokeWidth": 8, "strokeCap": "round"},
             "encoding": {"x": {"datum": 1, "type": "quantitative", "scale": {"domain": [-22.88, 375.04], "nice": false, "zero": false}, "axis": null}, "x2": {"datum": 366}}}
          ]
        }
      ],
      "spacing": 2
    }
  ],
  "spacing": 2
}
